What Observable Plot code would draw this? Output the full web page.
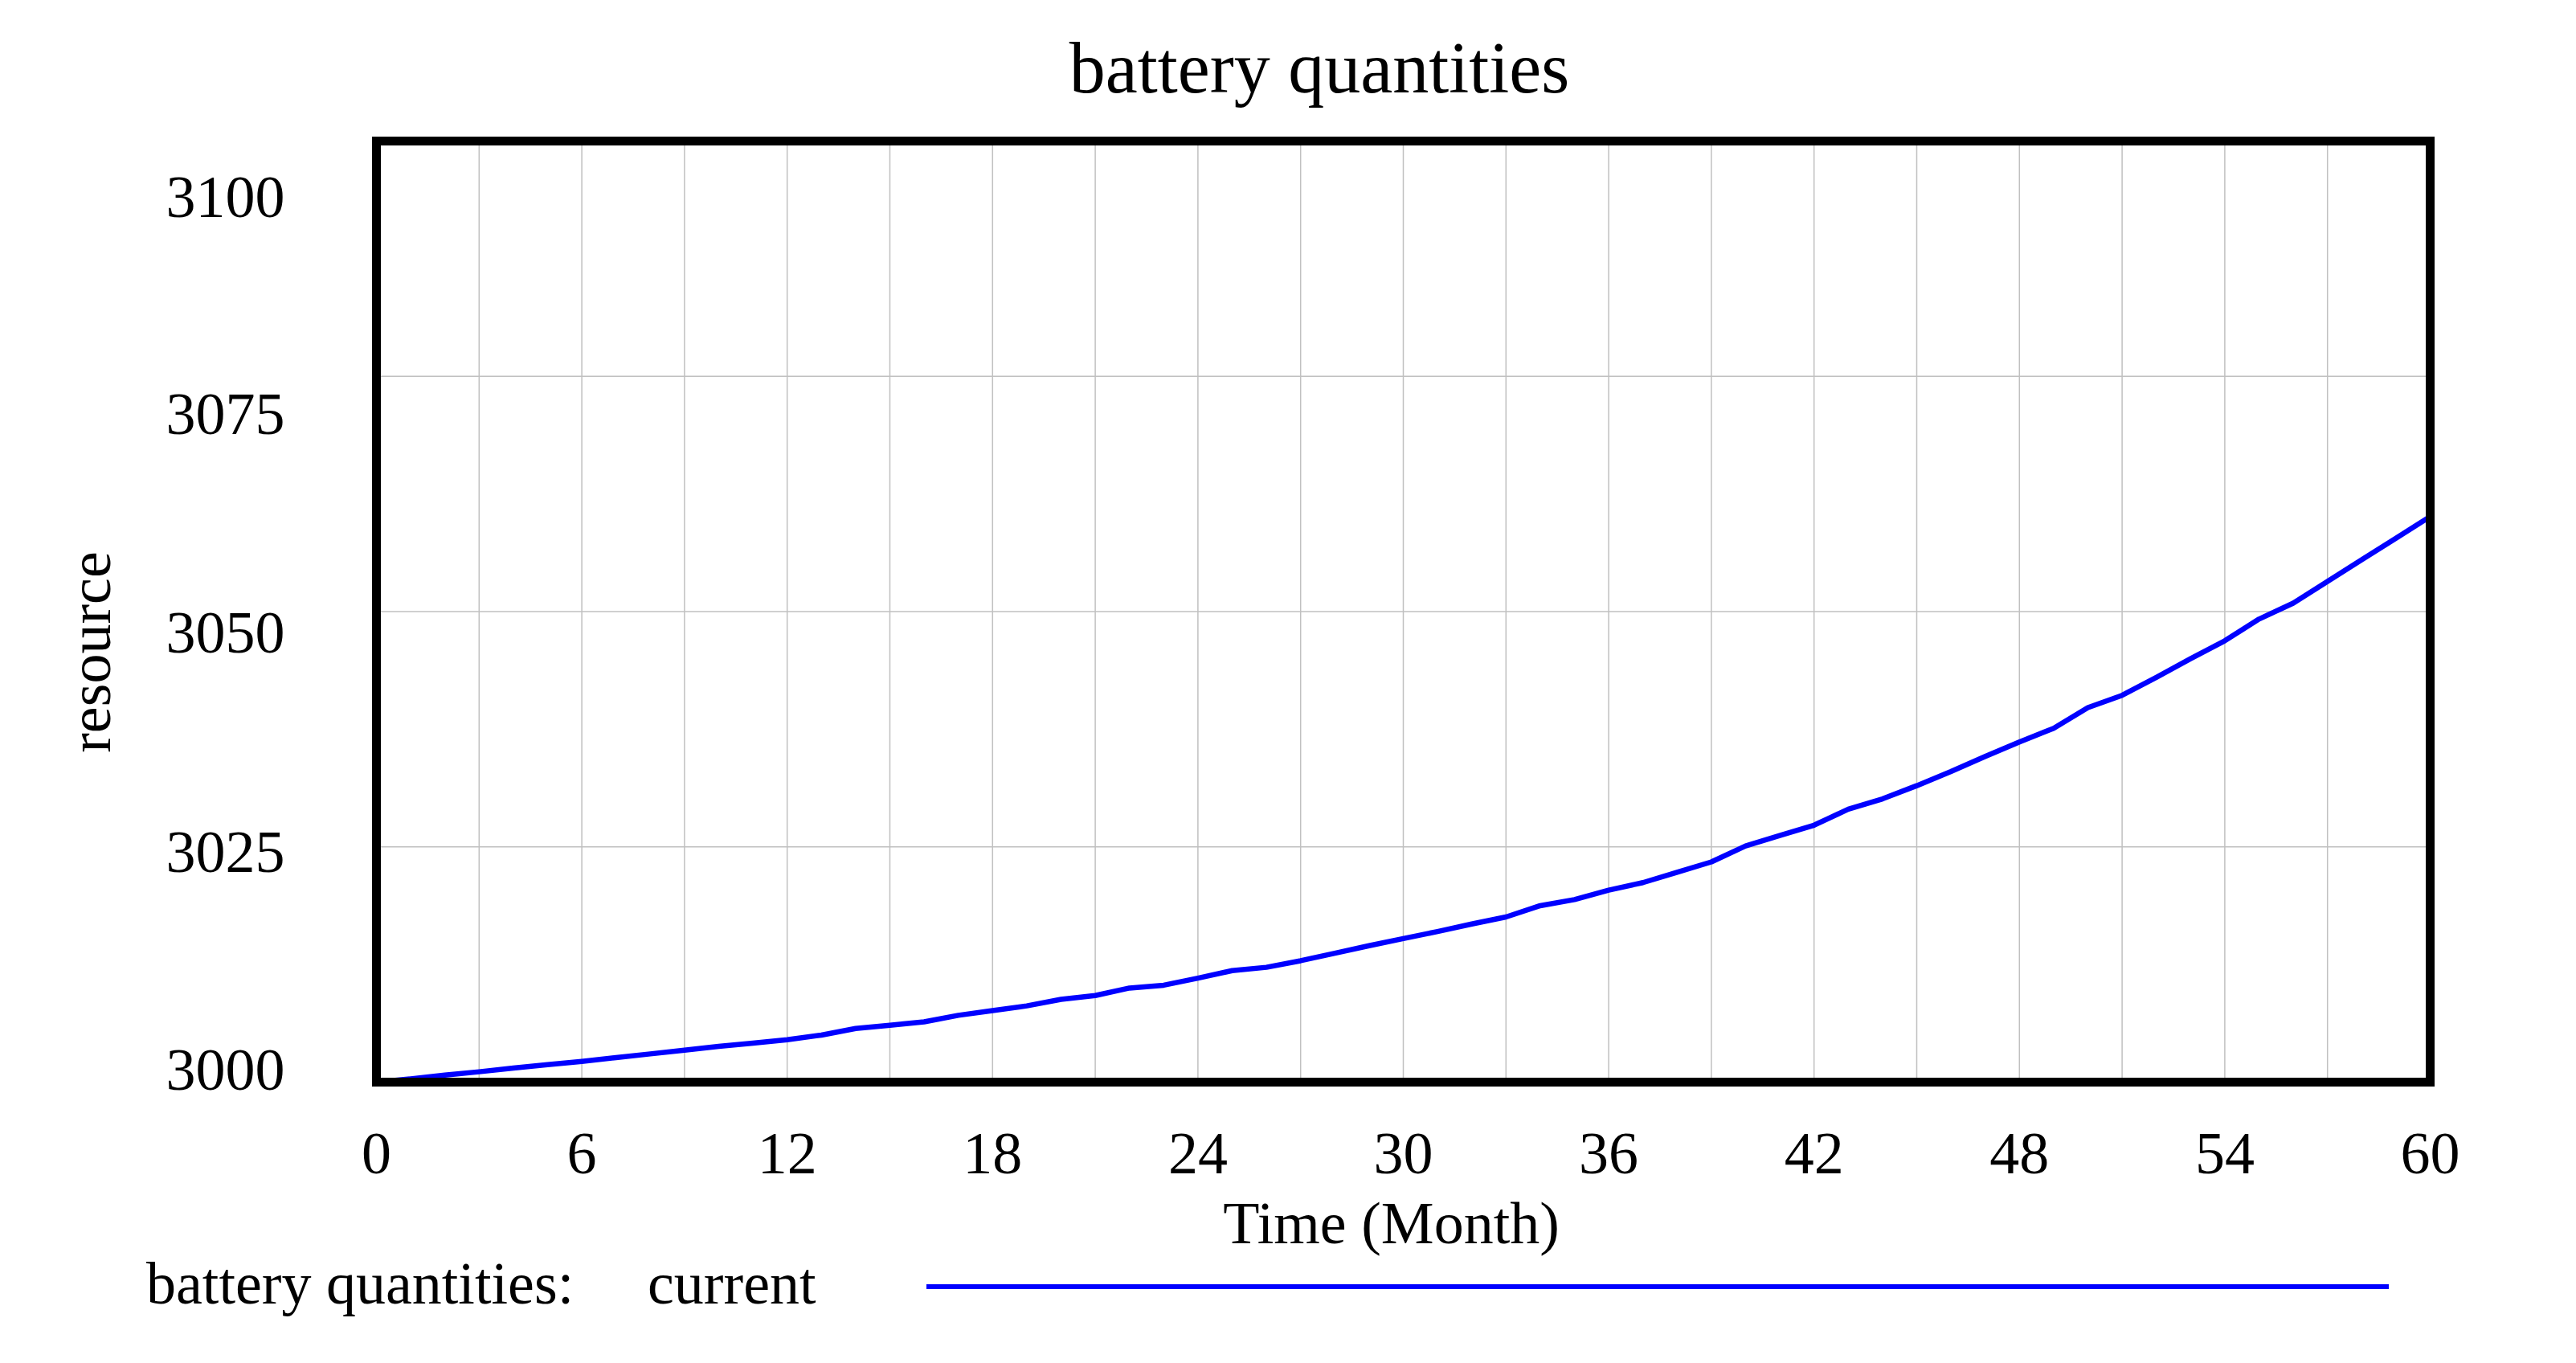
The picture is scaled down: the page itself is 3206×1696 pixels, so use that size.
<!DOCTYPE html>
<html>
<head>
<meta charset="utf-8">
<script src="https://cdn.jsdelivr.net/npm/d3@7"></script>
<script src="https://cdn.jsdelivr.net/npm/@observablehq/plot@0.6"></script>
<style>
  html, body { margin: 0; padding: 0; background: #ffffff; }
  #wrap { position: relative; width: 3206px; height: 1696px; background: #ffffff; font-family: "Liberation Serif", "DejaVu Serif", serif; color: #000; }
  #title { position: absolute; left: 1642px; top: 40px; transform: translateX(-50%); font-size: 90px; line-height: 90px; white-space: nowrap; }
  #chart { position: absolute; left: 0; top: 150px; }
  .leg { position: absolute; top: 1560px; font-size: 74px; line-height: 74px; white-space: nowrap; }
  #legline { position: absolute; left: 1153px; top: 1598px; width: 1820px; height: 6px; background: #0000ff; }
</style>
</head>
<body>
<div id="wrap">
  <div id="title">battery quantities</div>
  <div id="chart"></div>
  <div class="leg" style="left:182px">battery quantities:</div>
  <div class="leg" style="left:806px">current</div>
  <div id="legline"></div>
</div>
<script>
// ---- data ----
const months = [0,1,2,3,4,5,6,7,8,9,10,11,12,13,14,15,16,17,18,19,20,21,22,23,24,25,26,27,28,29,30,
  31,32,33,34,35,36,37,38,39,40,41,42,43,44,45,46,47,48,49,50,51,52,53,54,55,56,57,58,59,60];
const batteryCurrent = [
  3000.0, 3000.35, 3000.75, 3001.1, 3001.5, 3001.85, 3002.2, 3002.6, 3003.0, 3003.4,
  3003.8, 3004.15, 3004.5, 3005.0, 3005.7, 3006.05, 3006.4, 3007.1, 3007.6, 3008.1,
  3008.8, 3009.2, 3010.0, 3010.3, 3011.05, 3011.85, 3012.2, 3012.9, 3013.7, 3014.5,
  3015.25, 3016.0, 3016.8, 3017.55, 3018.75, 3019.4, 3020.4, 3021.2, 3022.3, 3023.4,
  3025.1, 3026.2, 3027.3, 3029.0, 3030.1, 3031.5, 3033.0, 3034.6, 3036.15, 3037.6,
  3039.8, 3041.1, 3043.0, 3045.0, 3046.9, 3049.2, 3050.9, 3053.2, 3055.5, 3057.8,
  3060.1
];
const xTickLabels = [0, 6, 12, 18, 24, 30, 36, 42, 48, 54, 60];
const xGridTicks = [3, 6, 9, 12, 15, 18, 21, 24, 27, 30, 33, 36, 39, 42, 45, 48, 51, 54, 57];
const yTickLabels = [3000, 3025, 3050, 3075, 3100];
const yGridTicks = [3025, 3050, 3075];

// ---- styling (label offsets as drawn by the original tool) ----
const yLabelDy = [-14, 8, 27.5, 48, 71];

const table = months.map((m, i) => ({month: m, value: batteryCurrent[i]}));
const font = "Liberation Serif";

const yAxes = yTickLabels.map((t, i) => Plot.axisY([t], {
  anchor: "left", tickSize: 0, tickPadding: 114, dy: yLabelDy[i],
  fontSize: 74, fontFamily: font, label: null, tickFormat: d => String(d)
}));

const chart = Plot.plot({
  width: 3206,
  height: 1420,
  marginTop: 25,
  marginBottom: 224,
  marginLeft: 468,
  marginRight: 182,
  style: {background: "#ffffff", color: "#000000", fontFamily: font, fontSize: "74px"},
  x: {domain: [0, 60], label: null},
  y: {domain: [3000, 3100], label: null},
  marks: [
    Plot.gridX(xGridTicks, {stroke: "#c0c0c0", strokeOpacity: 1, strokeWidth: 1.5}),
    Plot.gridY(yGridTicks, {stroke: "#c0c0c0", strokeOpacity: 1, strokeWidth: 1.5}),
    Plot.line(table, {x: "month", y: "value", stroke: "#0000ff", strokeWidth: 6.5}),
    Plot.frame({stroke: "#000000", strokeWidth: 11}),
    Plot.axisX(xTickLabels, {anchor: "bottom", tickSize: 0, tickPadding: 61, fontSize: 74, fontFamily: font, label: null, tickFormat: d => String(d)}),
    ...yAxes,
    Plot.text(["Time (Month)"], {frameAnchor: "bottom", textAnchor: "middle", dx: -15, dy: 177, lineAnchor: "middle", fontSize: 74, fontFamily: font, fill: "#000000"}),
    Plot.text(["resource"], {frameAnchor: "left", textAnchor: "middle", rotate: -90, dx: -355, dy: 50.5, lineAnchor: "middle", fontSize: 74, fontFamily: font, fill: "#000000"})
  ]
});
document.getElementById("chart").appendChild(chart);
</script>
</body>
</html>
